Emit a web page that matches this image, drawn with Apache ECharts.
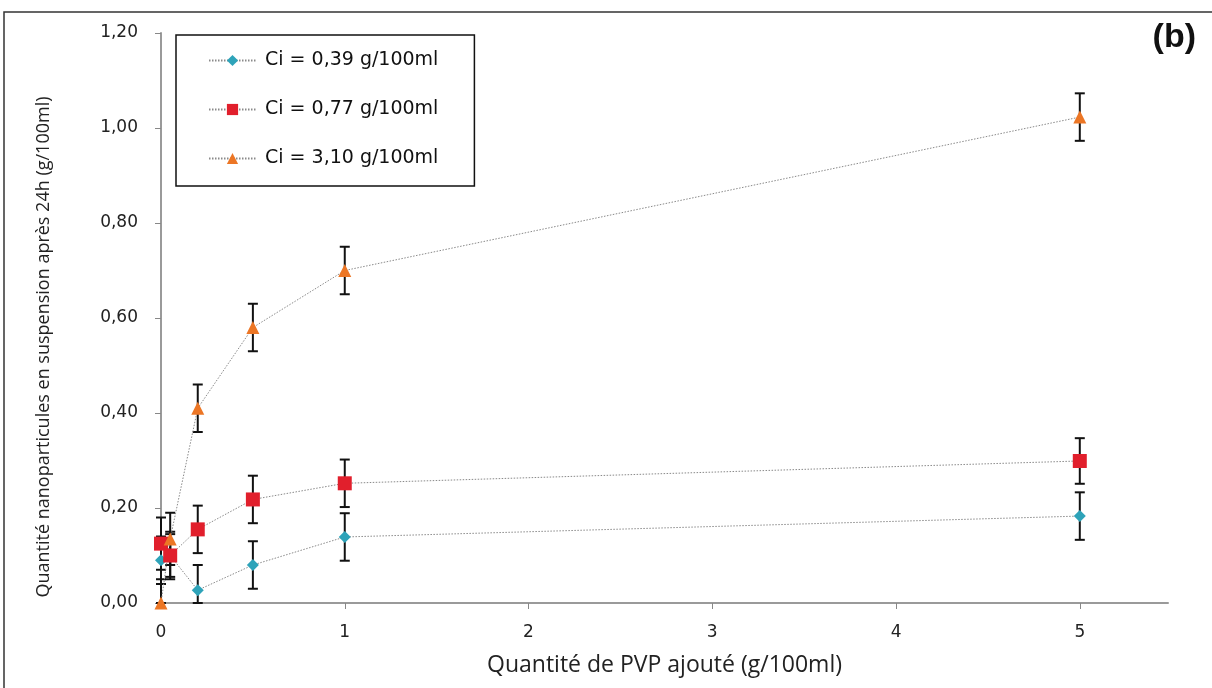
<!DOCTYPE html>
<html>
<head>
<meta charset="utf-8">
<script src="https://cdn.jsdelivr.net/npm/echarts@6/dist/echarts.min.js"></script>
<style>
  html, body { margin: 0; padding: 0; background: #fff; }
  #chart { width: 1212px; height: 688px; }
</style>
</head>
<body>
<div id="chart"></div>
<script>
// Quantité de PVP ajouté (g/100ml)
const pvp = [0, 0.05, 0.2, 0.5, 1, 5];

// Quantité en suspension après 24h, par concentration initiale
const ci039 = [0.09, 0.10, 0.027, 0.08, 0.139, 0.183];
const ci077 = [0.125, 0.10, 0.155, 0.218, 0.252, 0.299];
const ci310 = [0.0, 0.135, 0.41, 0.58, 0.70, 1.023];

// Écarts (barres d'erreur ±)
const err039 = [0.05, 0.05, 0.053, 0.05, 0.05, 0.05];
const err077 = [0.055, 0.045, 0.05, 0.05, 0.05, 0.048];
const err310 = [0.05, 0.055, 0.05, 0.05, 0.05, 0.05];

const seriesNames = ['Ci = 0,39 g/100ml', 'Ci = 0,77 g/100ml', 'Ci = 3,10 g/100ml'];
const xTicks = [0, 1, 2, 3, 4, 5];

const colors = ['#2ea3b9', '#e11f2c', '#ec7625'];
const symbols = ['diamond', 'rect', 'triangle'];
const symbolSizes = [12, 14, 13];

function pairs(ys) { return pvp.map((x, i) => [x, ys[i]]); }
function errData(ys, es) { return pvp.map((x, i) => [x, Math.max(0, ys[i] - es[i]), ys[i] + es[i]]); }

function renderError(params, api) {
  const x = api.value(0);
  const lo = api.coord([x, api.value(1)]);
  const hi = api.coord([x, api.value(2)]);
  const cap = 5;
  const style = { stroke: '#111', lineWidth: 2 };
  return {
    type: 'group',
    children: [
      { type: 'line', shape: { x1: hi[0], y1: hi[1], x2: lo[0], y2: lo[1] }, style },
      { type: 'line', shape: { x1: hi[0] - cap, y1: hi[1], x2: hi[0] + cap, y2: hi[1] }, style },
      { type: 'line', shape: { x1: lo[0] - cap, y1: lo[1], x2: lo[0] + cap, y2: lo[1] }, style }
    ]
  };
}

const values = [ci039, ci077, ci310];
const errors = [err039, err077, err310];

const series = [];
values.forEach((ys, k) => {
  series.push({
    type: 'custom',
    renderItem: renderError,
    data: errData(ys, errors[k]),
    z: 1,
    silent: true
  });
});
values.forEach((ys, k) => {
  series.push({
    name: seriesNames[k],
    type: 'line',
    data: pairs(ys),
    symbol: symbols[k],
    symbolSize: symbolSizes[k],
    showAllSymbol: true,
    clip: false,
    itemStyle: { color: colors[k] },
    lineStyle: { color: '#8a8a8a', width: 1, type: [1.5, 1.5] },
    z: 3
  });
});

const chart = echarts.init(document.getElementById('chart'));
chart.setOption({
  animation: false,
  backgroundColor: '#fff',
  grid: { left: 161, right: 44, top: 33, bottom: 85 },
  xAxis: {
    type: 'value',
    min: 0,
    max: 5.48,
    name: 'Quantité de PVP ajouté (g/100ml)',
    nameLocation: 'middle',
    nameGap: 51,
    nameTextStyle: { fontFamily: 'Open Sans', fontSize: 23, color: '#222' },
    axisLine: { lineStyle: { color: '#9a9a9a', width: 2 } },
    axisTick: { show: true, customValues: xTicks, length: 6, lineStyle: { color: '#888', width: 1 } },
    axisLabel: {
      customValues: xTicks,
      margin: 21,
      fontFamily: 'DejaVu Sans',
      fontSize: 17,
      color: '#222'
    },
    splitLine: { show: false }
  },
  yAxis: {
    type: 'value',
    min: 0,
    max: 1.2,
    interval: 0.2,
    name: 'Quantité nanoparticules en suspension après 24h (g/100ml)',
    nameLocation: 'middle',
    nameGap: 108,
    nameTextStyle: { fontFamily: 'Open Sans', fontSize: 18, color: '#222', padding: [0, 58, 0, 0] },
    axisLine: { show: true, lineStyle: { color: '#9a9a9a', width: 2 } },
    axisTick: { show: true, length: 6, lineStyle: { color: '#888', width: 1 } },
    axisLabel: {
      margin: 23,
      fontFamily: 'DejaVu Sans',
      fontSize: 17,
      color: '#222',
      formatter: v => v.toFixed(2).replace('.', ',')
    },
    splitLine: { show: false }
  },
  legend: {
    orient: 'vertical',
    left: 176,
    top: 35,
    padding: [16, 36, 18, 32],
    itemGap: 30,
    itemWidth: 47,
    itemHeight: 14,
    borderColor: '#111',
    borderWidth: 1.5,
    backgroundColor: '#fff',
    textStyle: { fontFamily: 'DejaVu Sans', fontSize: 19, color: '#111', padding: [0, 0, 0, 4] },
    data: seriesNames
  },
  graphic: [
    {
      type: 'rect',
      silent: true,
      z: -1,
      shape: { x: 4, y: 12, width: 1230, height: 700 },
      style: { fill: 'none', stroke: '#333', lineWidth: 1.5 }
    },
    {
      type: 'text',
      right: 16,
      top: 21,
      style: {
        text: '(b)',
        font: 'bold 34px "Liberation Sans"',
        fill: '#111'
      }
    }
  ],
  series
});
</script>
</body>
</html>
